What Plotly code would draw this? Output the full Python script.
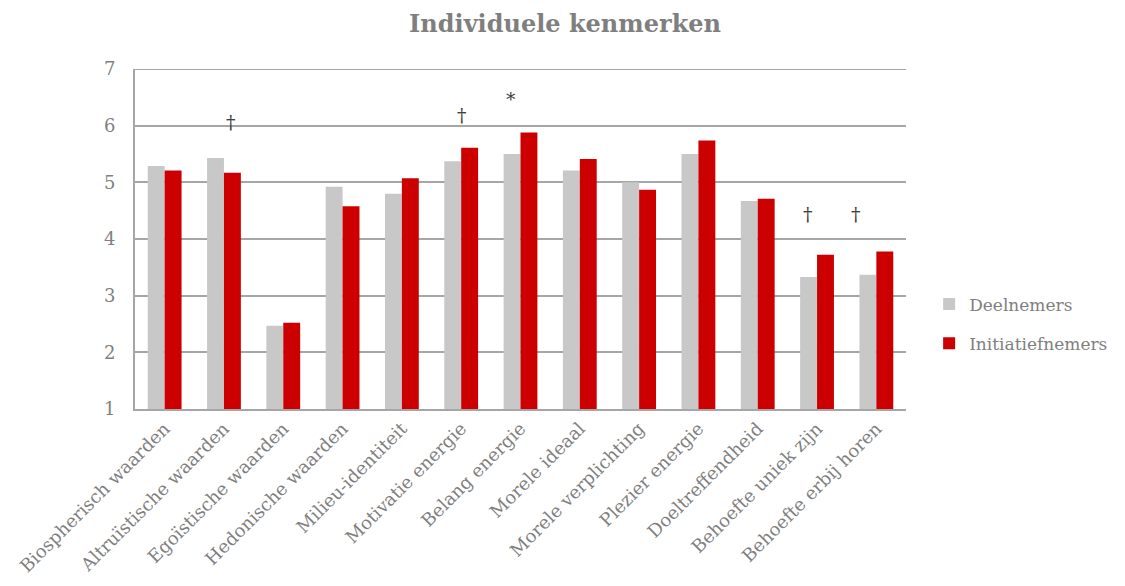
import plotly.graph_objects as go

categories = ["Biospherisch waarden", "Altruïstische waarden", "Egoïstische waarden",
              "Hedonische waarden", "Milieu-identiteit", "Motivatie energie",
              "Belang energie", "Morele ideaal", "Morele verplichting",
              "Plezier energie", "Doeltreffendheid", "Behoefte uniek zijn",
              "Behoefte erbij horen"]
deelnemers = [5.29, 5.43, 2.47, 4.92, 4.80, 5.37, 5.50, 5.21, 5.00, 5.50, 4.67, 3.33, 3.37]
initiatiefnemers = [5.21, 5.17, 2.52, 4.58, 5.07, 5.61, 5.88, 5.41, 4.87, 5.74, 4.71, 3.72, 3.78]

# significance markers: category index (with offset), y value, symbol
sig_pos = [1.12, 5.02, 5.84, 10.84, 11.65]
sig_y = [6.07, 6.19, 6.47, 4.44, 4.44]
sig_text = ["†", "†", "*", "†", "†"]

y_min, y_max = 1, 7
FONT = "DejaVu Serif"
GRAY_TXT = "#7f7f7f"
GRID = "#a6a6a6"

xs = list(range(len(categories)))
fig = go.Figure()
fig.add_trace(go.Bar(x=xs, y=[v - y_min for v in deelnemers], base=y_min, name="Deelnemers",
                     marker=dict(color="#c8c8c8", line=dict(width=0)), legendgroup="a"))
fig.add_trace(go.Bar(x=xs, y=[v - y_min for v in initiatiefnemers], base=y_min, name="Initiatiefnemers",
                     marker=dict(color="#cc0000", line=dict(width=0)), legendgroup="b"))

for xp, yp, t in zip(sig_pos, sig_y, sig_text):
    fig.add_annotation(x=xp, y=yp, text=t, showarrow=False, xref="x", yref="y",
                       font=dict(family=FONT, size=19, color="#404040"))

# top gridline at the upper edge of the range
fig.add_shape(type="line", xref="paper", yref="y", x0=0, x1=1, y0=y_max, y1=y_max,
              line=dict(color=GRID, width=2), layer="below")

fig.update_layout(
    width=1117, height=578,
    paper_bgcolor="white", plot_bgcolor="white",
    margin=dict(l=127, r=219, t=61, b=177, autoexpand=False),
    title=dict(text="<b>Individuele kenmerken</b>", x=0.4987, xanchor="center",
               y=0.973, yanchor="middle",
               font=dict(family=FONT, size=24, color=GRAY_TXT)),
    barmode="group", bargap=0.43, bargroupgap=0,
    legend=dict(x=1.03, y=0.25, xanchor="left", yanchor="middle",
                font=dict(family=FONT, size=17, color=GRAY_TXT),
                tracegroupgap=14, traceorder="grouped", itemwidth=30),
    showlegend=True,
)
fig.update_xaxes(
    tickmode="array", tickvals=xs, ticktext=categories,
    range=[-0.5, len(categories) - 0.5], tickangle=-45, automargin=False,
    tickfont=dict(family=FONT, size=18, color=GRAY_TXT),
    showline=True, linecolor=GRID, linewidth=2, showgrid=False, ticks="",
)
fig.update_yaxes(
    range=[y_min, y_max], tickvals=[1, 2, 3, 4, 5, 6, 7], automargin=False,
    tickfont=dict(family=FONT, size=18, color=GRAY_TXT),
    showline=True, linecolor=GRID, linewidth=2,
    showgrid=True, gridcolor=GRID, gridwidth=2, zeroline=False,
    ticks="outside", ticklen=14, tickcolor="rgba(0,0,0,0)",
)

fig.write_html("out.html")
